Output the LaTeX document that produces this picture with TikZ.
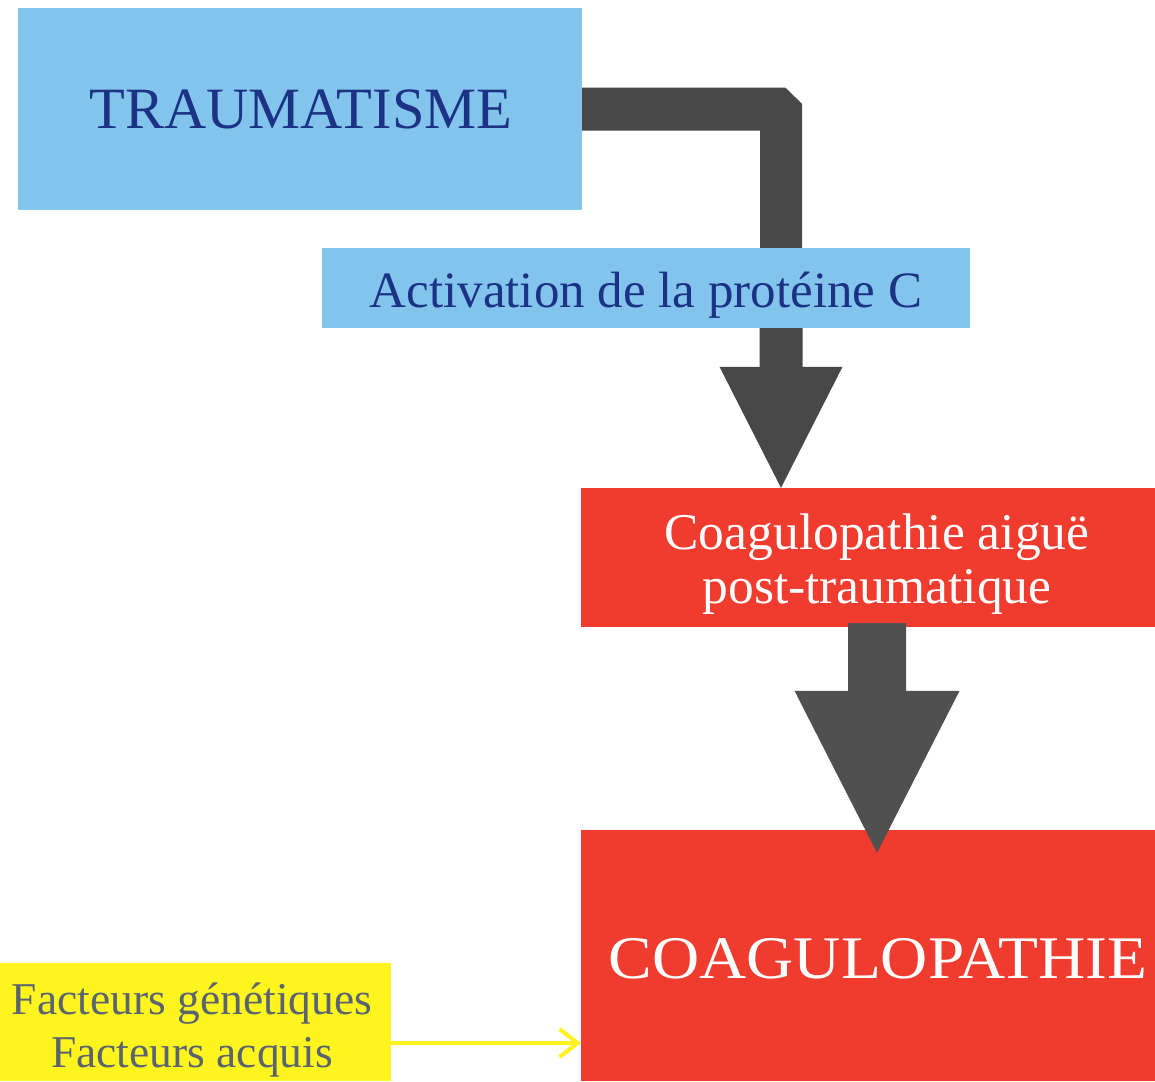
\documentclass[tikz,border=0pt]{standalone}
\usepackage{fontspec}
\setmainfont{Liberation Serif}
\usetikzlibrary{calc,arrows.meta}
\definecolor{boxblue}{HTML}{82C4EC}
\definecolor{navy}{HTML}{1C3285}
\definecolor{boxred}{HTML}{F03C2E}
\definecolor{boxyellow}{HTML}{FFF51E}
\definecolor{greytext}{HTML}{5A6470}
\definecolor{darkarrow}{HTML}{484848}
\definecolor{midarrow}{HTML}{505050}
\definecolor{linkyellow}{HTML}{FFF21E}
\newcommand\blockarrowdown[6]{%
  \fill[#1] ($(#2)+(-#4,0)$) -- ($(#2)+(#4,0)$) -- ($(#3)+(#4,-#6)$) -- ($(#3)+(#5,-#6)$)
    -- (#3) -- ($(#3)+(-#5,-#6)$) -- ($(#3)+(-#4,-#6)$) -- cycle;}
% shifted text block: #1 = x shift (twice), #2 = downward shift, #3 = lines
\newcommand\shiftedtext[3]{\hspace*{#1}\raisebox{-#2}[\height][\depth]{\begin{tabular}{@{}c@{}}#3\end{tabular}}}
\begin{document}
\begin{tikzpicture}[x=1pt,y=-1pt,
  box/.style={rectangle, inner sep=0pt, align=center},
  bluebox/.style={box, fill=boxblue, text=navy},
  redbox/.style={box, fill=boxred, text=white},
  yellowbox/.style={box, fill=boxyellow, text=greytext}]
\useasboundingbox (0,0) rectangle (1155,1081);
\fill[white] (0,0) rectangle (1155,1081);

\node[bluebox, minimum width=564pt, minimum height=202pt,
  font=\fontsize{58.5}{60}\selectfont] (traum) at (300,109) {\shiftedtext{2pt}{7pt}{TRAUMATISME}};
\node[bluebox, minimum width=648pt, minimum height=80pt,
  font=\fontsize{51}{54}\selectfont] (act) at (646,288) {\shiftedtext{0pt}{9pt}{Activation de la protéine C}};
\node[redbox, minimum width=574pt, minimum height=139pt,
  font=\fontsize{51.5}{54}\selectfont] (red1) at (868,557.5) {\shiftedtext{18pt}{8pt}{Coagulopathie aiguë\\post-traumatique}};
\node[redbox, minimum width=574pt, minimum height=251pt,
  font=\fontsize{60.5}{62}\selectfont] (red2) at (868,955.5) {\shiftedtext{20pt}{11pt}{\scalebox{1.08}[1]{COAGULOPATHIE}}};
\node[yellowbox, minimum width=391pt, minimum height=118pt,
  font=\fontsize{45.5}{53}\selectfont] (yel) at (195.5,1022) {\shiftedtext{-7pt}{8pt}{Facteurs génétiques\\Facteurs acquis}};

% bent arrow from TRAUMATISME to Activation
\coordinate (b) at ($(traum.east)+(199,0)$);
\fill[darkarrow] ($(traum.east)+(0,-21.5)$) -- ($(b)+(4,-21.5)$) -- ($(b)+(21,-5)$)
  -- ($(b |- act.north)+(21,0)$) -- ($(b |- act.north)+(-21,0)$)
  -- ($(b)+(-21,21.5)$) -- ($(traum.east)+(0,21.5)$) -- cycle;

% Activation -> Coagulopathie aiguë
\coordinate (a2s) at ($(act.south)+(135,0)$);
\coordinate (a2t) at (a2s |- red1.north);
\blockarrowdown{darkarrow}{a2s}{a2t}{21.5}{61.5}{121}

% Coagulopathie aiguë -> COAGULOPATHIE
\coordinate (a3s) at ($(red1.south)+(9,-4)$);
\coordinate (a3t) at ($(a3s |- red2.north)+(0,23)$);
\blockarrowdown{midarrow}{a3s}{a3t}{29}{82.5}{162}

% yellow link
\coordinate (ys) at ($(yel.east)+(0,21)$);
\draw[linkyellow, line width=4pt, -{Straight Barb[length=18pt,width=28pt,line width=4pt]}]
  (ys) -- (ys -| red2.west);
\end{tikzpicture}
\end{document}
